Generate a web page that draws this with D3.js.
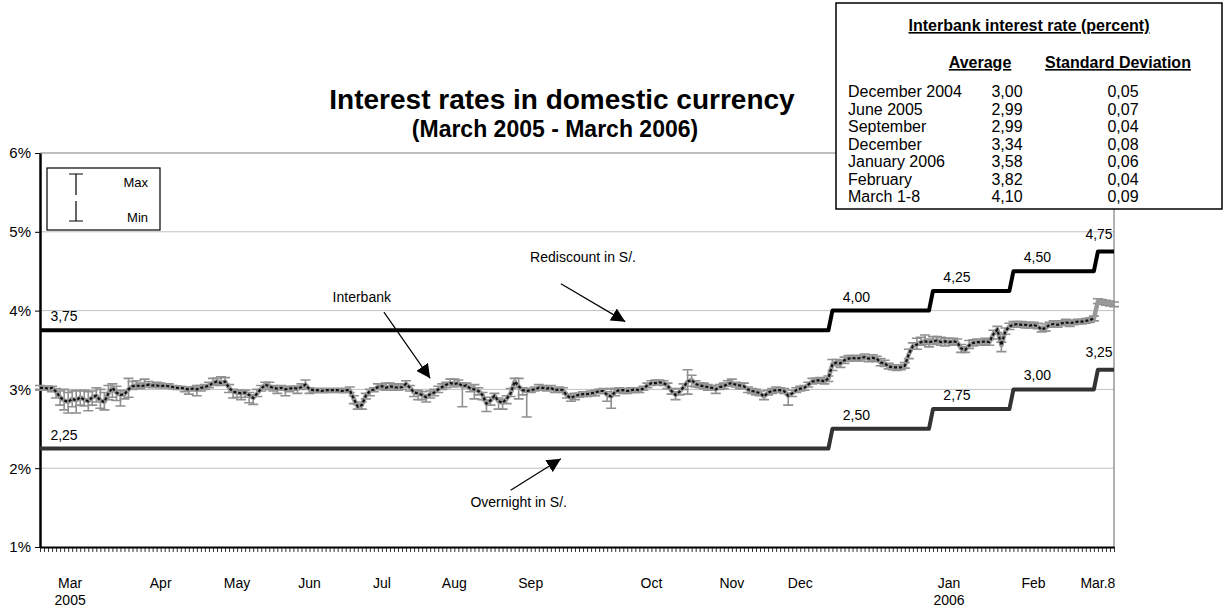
<!DOCTYPE html>
<html>
<head>
<meta charset="utf-8">
<script src="https://cdn.jsdelivr.net/npm/d3@7"></script>
<style>
  body { margin: 0; background: #fff; }
  svg { font-family: Arial, "Liberation Sans", sans-serif; }
</style>
</head>
<body>
<div id="chart"></div>
<script>
// daily interbank average (%), business days 1 Mar 2005 - 8 Mar 2006
const avg = [
  3.02,3.02,3.01,3.02,2.97,2.90,2.86,2.84,2.88,2.86,2.90,2.87,2.85,2.90,2.92,2.86,2.84,2.95,3.02,2.96,2.93,2.94,3.00,3.04,
  3.05,3.04,3.05,3.06,3.05,3.05,3.04,3.05,3.04,3.03,3.02,3.02,3.01,3.00,3.01,3.00,3.02,3.03,3.05,3.08,3.10,3.08,3.10,3.02,
  2.97,2.96,2.95,2.96,2.93,2.89,2.95,3.01,3.06,3.04,3.02,3.01,3.02,3.00,3.01,3.02,3.01,3.03,3.06,3.00,2.99,2.99,2.98,2.99,
  2.99,2.99,2.99,2.98,2.99,2.99,2.88,2.78,2.80,2.92,2.98,3.00,3.03,3.04,3.02,3.04,3.03,3.02,3.03,3.07,3.02,2.96,2.95,2.93,
  2.90,2.94,2.96,3.00,3.03,3.06,3.08,3.07,3.08,3.04,3.05,3.01,3.00,2.98,2.93,2.82,2.86,2.92,2.85,2.83,2.88,2.95,3.10,3.04,
  2.99,2.98,2.99,3.00,3.02,3.02,3.01,3.02,2.99,3.00,2.99,2.92,2.89,2.92,2.93,2.94,2.94,2.95,2.96,2.98,2.98,2.93,2.91,2.97,
  2.99,2.99,2.98,2.99,3.00,2.99,3.01,3.05,3.08,3.08,3.09,3.08,3.05,2.98,2.93,2.97,3.03,3.10,3.12,3.07,3.05,3.04,3.03,3.02,
  3.00,3.03,3.04,3.07,3.08,3.06,3.05,3.04,3.00,2.98,2.97,2.95,2.91,2.96,2.98,2.99,2.99,2.98,2.92,2.95,2.99,3.01,3.02,3.06,
  3.10,3.11,3.12,3.10,3.14,3.32,3.34,3.33,3.37,3.39,3.40,3.39,3.40,3.41,3.39,3.40,3.39,3.34,3.33,3.29,3.28,3.28,3.28,3.30,
  3.45,3.55,3.57,3.60,3.61,3.60,3.61,3.62,3.60,3.61,3.60,3.61,3.60,3.52,3.50,3.56,3.59,3.60,3.60,3.61,3.60,3.70,3.76,3.56,
  3.74,3.80,3.82,3.83,3.82,3.82,3.81,3.82,3.80,3.76,3.78,3.82,3.83,3.82,3.84,3.85,3.84,3.85,3.86,3.86,3.87,3.88,3.90,
  4.12,4.11,4.10,4.09,4.08
];
// distance to the day's max and min, in basis points
const up = [
  3,2,3,2,4,8,14,12,10,13,8,12,12,8,10,14,12,10,5,8,6,4,14,6,
  6,4,8,4,2,4,4,2,3,2,2,2,2,3,2,5,3,3,4,6,4,8,5,4,
  3,3,4,3,3,4,5,4,3,5,3,2,3,2,3,2,3,4,6,2,2,2,3,2,
  2,2,2,3,2,4,4,3,4,3,2,2,4,3,6,4,3,5,4,4,3,3,4,4,
  3,4,4,4,4,3,5,6,4,4,3,3,6,4,3,4,4,3,4,4,4,6,4,10,
  3,3,2,3,4,3,2,3,2,3,3,2,3,3,2,3,2,3,3,2,3,4,10,4,
  3,2,3,3,2,3,3,3,3,4,3,3,3,3,4,4,4,15,6,4,3,4,3,3,
  3,3,4,4,5,3,3,4,3,3,3,3,3,3,3,4,3,3,3,4,3,3,3,3,
  4,3,3,4,3,6,4,4,4,4,3,4,3,4,3,4,3,5,4,4,3,3,3,4,
  6,4,8,6,8,4,6,5,6,4,5,4,4,5,4,6,4,4,3,4,3,5,4,4,
  4,4,4,3,4,3,4,3,4,4,5,3,4,3,3,4,3,3,3,3,3,3,3,
  3,3,3,3,3
];
const down = [
  2,3,2,5,8,10,12,14,10,16,10,8,12,10,8,10,10,8,12,10,14,6,10,4,
  3,3,2,2,3,2,2,3,2,2,2,2,4,6,3,8,4,3,3,3,4,3,4,6,
  8,6,8,6,10,8,4,3,4,4,4,6,3,8,4,3,6,3,4,5,3,3,2,3,
  3,2,3,2,3,3,6,3,5,4,6,3,3,4,3,3,4,3,3,4,4,5,8,6,
  6,5,4,4,3,4,3,4,3,26,3,4,12,5,6,10,6,4,10,8,6,4,8,16,
  6,33,3,2,3,3,3,2,3,2,3,3,4,5,3,3,3,3,4,3,3,8,15,5,
  3,4,3,3,4,3,2,3,3,2,3,3,4,4,6,4,3,16,8,4,3,3,4,3,
  5,3,3,3,3,3,4,3,4,3,4,3,4,3,3,2,3,3,12,4,3,3,3,3,
  3,3,4,3,4,8,4,5,4,3,4,3,4,3,4,3,4,4,4,3,3,4,3,3,
  6,4,6,4,4,6,4,4,4,6,4,4,4,5,3,4,4,4,4,4,4,6,4,8,
  4,4,3,3,3,4,3,3,3,3,4,3,4,3,3,3,4,3,3,3,3,3,3,
  3,3,3,3,3
];
// policy corridor: day index where each rate starts
const rediscount = [
  { day: 0, rate: 3.75 }, { day: 197, rate: 4.00 }, { day: 222, rate: 4.25 },
  { day: 242, rate: 4.50 }, { day: 263, rate: 4.75 }
];
const overnight = [
  { day: 0, rate: 2.25 }, { day: 197, rate: 2.50 }, { day: 222, rate: 2.75 },
  { day: 242, rate: 3.00 }, { day: 263, rate: 3.25 }
];
const months = [
  { name: "Mar", year: "2005", day: 7.5 }, { name: "Apr", day: 30 }, { name: "May", day: 49 },
  { name: "Jun", day: 67 }, { name: "Jul", day: 85 }, { name: "Aug", day: 103 },
  { name: "Sep", day: 122 }, { name: "Oct", day: 152 }, { name: "Nov", day: 172 },
  { name: "Dec", day: 189 }, { name: "Jan", year: "2006", day: 226 }, { name: "Feb", day: 247 },
  { name: "Mar.8", day: 263 }
];
const yTicks = [1, 2, 3, 4, 5, 6];
const tablePeriods = ["December 2004", "June 2005", "September", "December", "January 2006", "February", "March 1-8"];
const tableAvg = ["3,00", "2,99", "2,99", "3,34", "3,58", "3,82", "4,10"];
const tableSd = ["0,05", "0,07", "0,04", "0,08", "0,06", "0,04", "0,09"];

const width = 1225, height = 609;
const margin = { top: 153, right: 111, bottom: 62, left: 40 };
const N = avg.length;

const svg = d3.select("#chart").append("svg")
  .attr("width", width).attr("height", height)
  .attr("viewBox", [0, 0, width, height]);

const x = d3.scaleLinear().domain([0, N - 1]).range([margin.left, width - margin.right]);
const y = d3.scaleLinear().domain([1, 6]).range([height - margin.bottom, margin.top]);

const comma = v => d3.format(".2f")(v).replace(".", ",");
const daily = steps => d3.range(N).map(i => ({ day: i, rate: steps.filter(s => s.day <= i).pop().rate }));

// grid + plot frame
svg.append("g").selectAll("line").data([2, 3, 4, 5]).join("line")
  .attr("x1", x(0)).attr("x2", x(N - 1))
  .attr("y1", d => y(d)).attr("y2", d => y(d))
  .attr("stroke", "#c0c0c0").attr("stroke-width", 1);
svg.append("path")
  .attr("d", `M${x(0)},${y(6)}H${x(N - 1)}V${y(1)}`)
  .attr("fill", "none").attr("stroke", "#808080").attr("stroke-width", 1.2);

// axes
svg.append("g")
  .attr("transform", `translate(0,${y(1)})`)
  .call(d3.axisBottom(x).tickValues(d3.range(N)).tickFormat("").tickSize(5).tickSizeOuter(0))
  .call(g => g.select(".domain").attr("stroke-width", 2))
  .call(g => g.selectAll(".tick line").attr("stroke-width", 0.8));

svg.append("g")
  .attr("transform", `translate(${x(0)},0)`)
  .call(d3.axisLeft(y).tickValues(yTicks).tickFormat(d => d + "%").tickSize(5).tickSizeOuter(0))
  .call(g => g.select(".domain").attr("stroke-width", 2.5))
  .call(g => g.selectAll("text").attr("font-size", 15).attr("font-family", "Arial, 'Liberation Sans', sans-serif").attr("fill", "#000").attr("x", -9));

const mlab = svg.append("g").attr("font-size", 14).attr("text-anchor", "middle");
mlab.selectAll("text.m").data(months).join("text")
  .attr("x", d => x(d.day)).attr("y", 588).text(d => d.name);
mlab.selectAll("text.yr").data(months.filter(d => d.year)).join("text")
  .attr("x", d => x(d.day)).attr("y", 605).text(d => d.year);

// corridor lines
const stepLine = d3.line().x(d => x(d.day)).y(d => y(d.rate));
[[rediscount, "#000"], [overnight, "#333"]].forEach(([steps, col]) => {
  svg.append("path").datum(daily(steps))
    .attr("fill", "none").attr("stroke", col).attr("stroke-width", 4)
    .attr("stroke-linejoin", "round").attr("d", stepLine);
  svg.append("g").attr("font-size", 14).attr("text-anchor", "middle")
    .selectAll("text").data(steps).join("text")
    .attr("x", d => Math.min(x(d.day) + 24, x(N - 1) - 15))
    .attr("y", (d, i) => y(d.rate) - (i === steps.length - 1 ? 13 : 9))
    .text(d => comma(d.rate));
});

// interbank min-max bars
const bars = svg.append("g").attr("stroke", "#909090").attr("stroke-width", 1.6);
avg.forEach((v, i) => {
  const hi = y(v + up[i] / 100), lo = y(v - down[i] / 100), cx = x(i);
  bars.append("path").attr("d", `M${cx},${hi}V${lo}M${cx - 5},${hi}H${cx + 5}M${cx - 5},${lo}H${cx + 5}`);
});

const ibLine = d3.line().x((d, i) => x(i)).y(d => y(d));
svg.append("path").datum(avg)
  .attr("fill", "none").attr("stroke", "#999").attr("stroke-width", 4.5)
  .attr("stroke-linejoin", "round").attr("d", ibLine);
svg.append("path").datum(avg.slice(0, N - 5))
  .attr("fill", "none").attr("stroke", "#111").attr("stroke-width", 2.2)
  .attr("stroke-dasharray", "3,2").attr("d", ibLine);

// annotations with arrows
svg.append("defs").append("marker")
  .attr("id", "arrow").attr("viewBox", "0 0 10 10")
  .attr("refX", 10).attr("refY", 5)
  .attr("markerWidth", 14).attr("markerHeight", 14)
  .attr("markerUnits", "userSpaceOnUse").attr("orient", "auto")
  .append("path").attr("d", "M0,0L10,5L0,10z").attr("fill", "#000");

const notes = [
  { text: "Interbank", at: [80, 4.11], from: [85.5, 3.98], to: [97, 3.14] },
  { text: "Rediscount in S/.", at: [135, 4.62], from: [129.5, 4.34], to: [145.5, 3.86] },
  { text: "Overnight in S/.", at: [119, 1.51], from: [117, 1.72], to: [129.5, 2.12] }
];
notes.forEach(n => {
  svg.append("text").attr("x", x(n.at[0])).attr("y", y(n.at[1]))
    .attr("font-size", 14).attr("text-anchor", "middle").text(n.text);
  svg.append("line")
    .attr("x1", x(n.from[0])).attr("y1", y(n.from[1]))
    .attr("x2", x(n.to[0])).attr("y2", y(n.to[1]))
    .attr("stroke", "#000").attr("stroke-width", 1.2)
    .attr("marker-end", "url(#arrow)");
});

// titles
svg.append("text").attr("x", 562).attr("y", 109).attr("text-anchor", "middle")
  .attr("font-size", 28).attr("font-weight", "bold").text("Interest rates in domestic currency");
svg.append("text").attr("x", 555).attr("y", 137).attr("text-anchor", "middle")
  .attr("font-size", 23).attr("font-weight", "bold").text("(March 2005 - March 2006)");

// max/min key
const key = svg.append("g");
key.append("rect").attr("x", 47).attr("y", 168).attr("width", 113).attr("height", 62)
  .attr("fill", "#fff").attr("stroke", "#000").attr("stroke-width", 1.2);
key.append("path").attr("d", "M69,174H83M76,174V195M76,201V221M69,221H83")
  .attr("stroke", "#000").attr("stroke-width", 1.2).attr("fill", "none");
key.append("text").attr("x", 148).attr("y", 187).attr("text-anchor", "end").attr("font-size", 13).text("Max");
key.append("text").attr("x", 148).attr("y", 222).attr("text-anchor", "end").attr("font-size", 13).text("Min");

// interbank statistics table
const tb = svg.append("g").attr("font-size", 16);
tb.append("rect").attr("x", 836).attr("y", 3).attr("width", 386).attr("height", 206)
  .attr("fill", "#fff").attr("stroke", "#000").attr("stroke-width", 1.5);
tb.append("text").attr("x", 1029).attr("y", 31).attr("text-anchor", "middle")
  .attr("font-weight", "bold").attr("text-decoration", "underline")
  .text("Interbank interest rate (percent)");
tb.append("text").attr("x", 980).attr("y", 68).attr("text-anchor", "middle")
  .attr("font-weight", "bold").attr("text-decoration", "underline").text("Average");
tb.append("text").attr("x", 1118).attr("y", 68).attr("text-anchor", "middle")
  .attr("font-weight", "bold").attr("text-decoration", "underline").text("Standard Deviation");
tablePeriods.forEach((p, i) => {
  const ty = 97 + i * 17.5;
  tb.append("text").attr("x", 848).attr("y", ty).text(p);
  tb.append("text").attr("x", 1007).attr("y", ty).attr("text-anchor", "middle").text(tableAvg[i]);
  tb.append("text").attr("x", 1123).attr("y", ty).attr("text-anchor", "middle").text(tableSd[i]);
});
</script>
</body>
</html>
